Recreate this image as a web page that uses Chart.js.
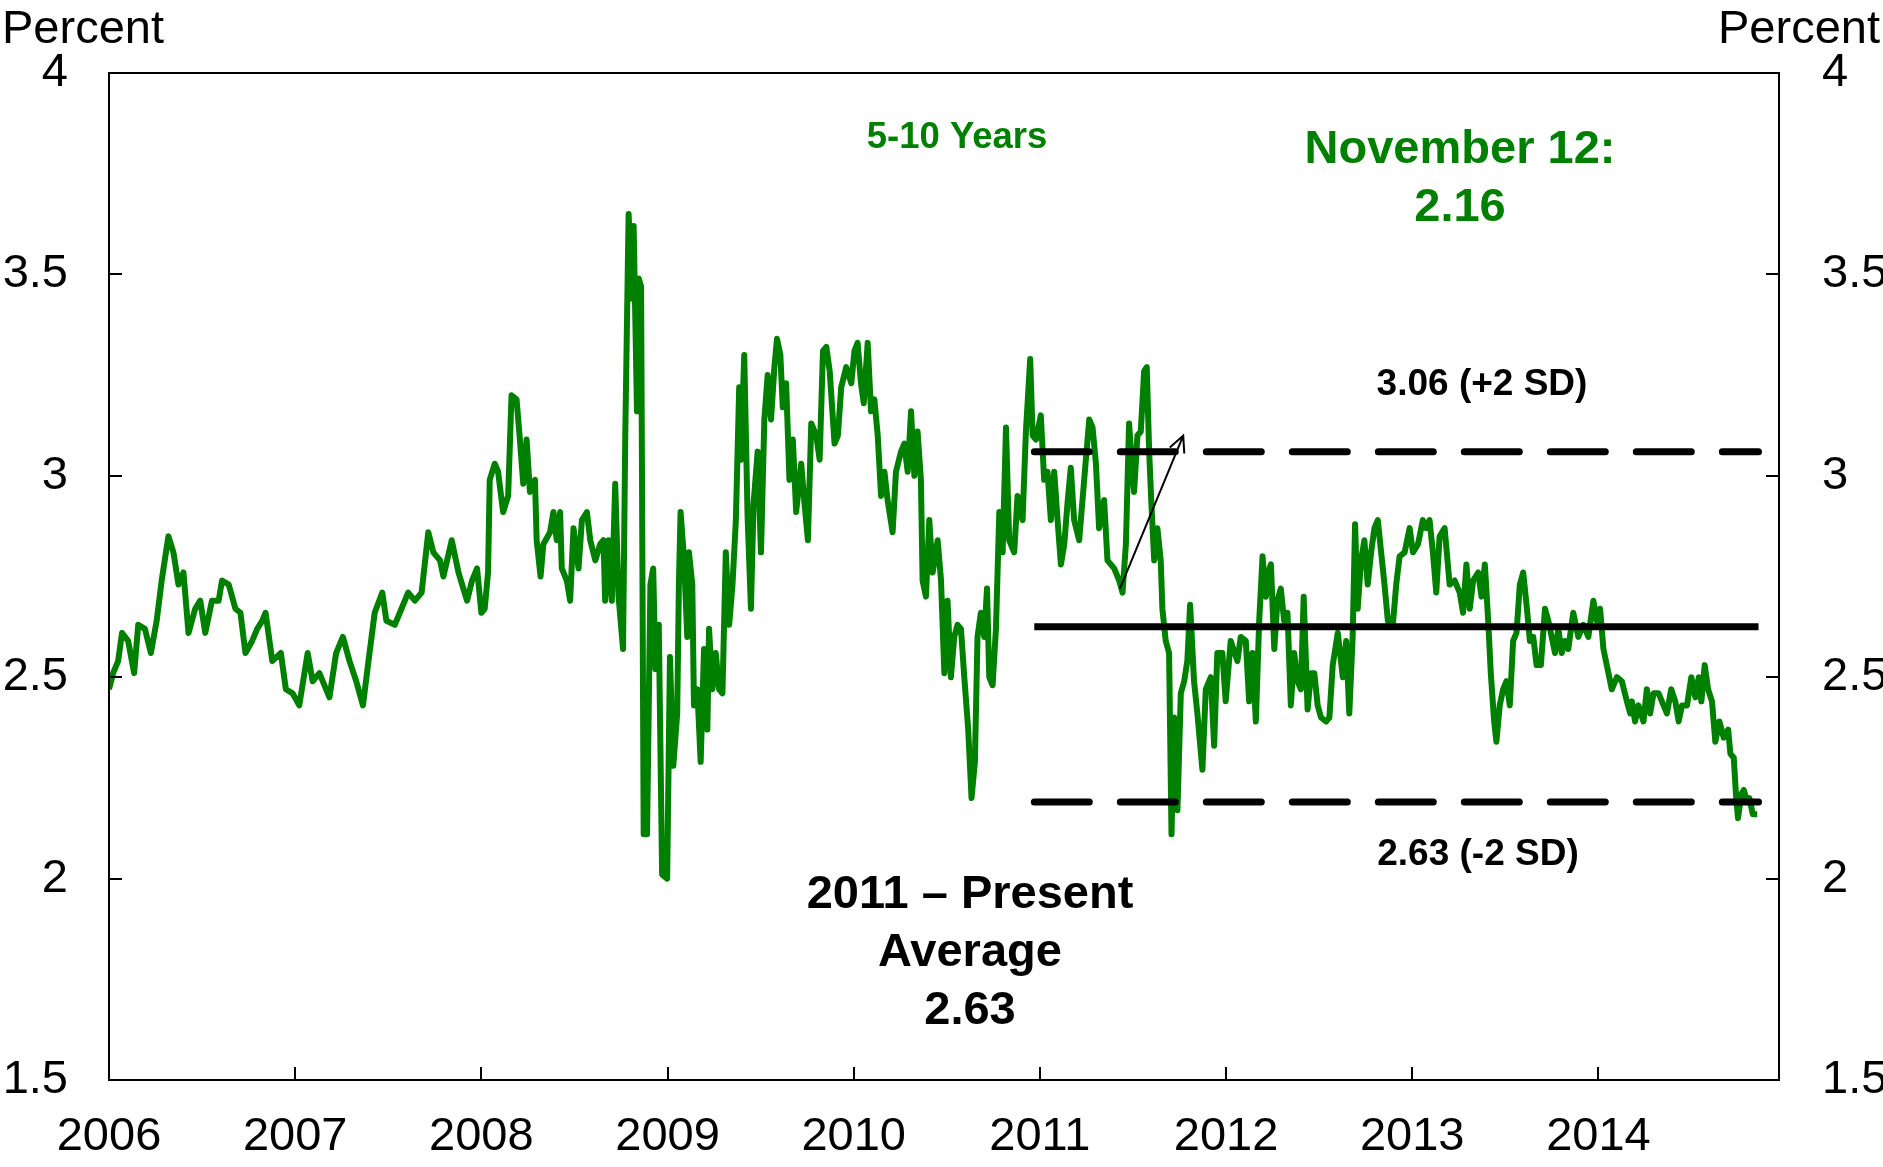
<!DOCTYPE html>
<html>
<head>
<meta charset="utf-8">
<title>5-10 Years</title>
<script src="https://cdn.jsdelivr.net/npm/chart.js@4.4.1/dist/chart.umd.min.js"></script>
<style>
  html, body { margin: 0; padding: 0; background: #fff; }
  canvas { display: block; }
</style>
</head>
<body>
<canvas id="chart" width="1883" height="1167"></canvas>
<script>
const dates = [
  2006.000, 2006.022, 2006.049, 2006.070, 2006.103, 2006.135, 2006.157, 2006.193, 2006.225, 2006.256,
  2006.283, 2006.319, 2006.346, 2006.373, 2006.400, 2006.427, 2006.463, 2006.490, 2006.517, 2006.553,
  2006.589, 2006.607, 2006.643, 2006.679, 2006.706, 2006.733, 2006.769, 2006.796, 2006.823, 2006.841,
  2006.877, 2006.923, 2006.950, 2006.986, 2007.022, 2007.067, 2007.094, 2007.130, 2007.184, 2007.220,
  2007.256, 2007.292, 2007.328, 2007.364, 2007.391, 2007.427, 2007.468, 2007.490, 2007.535, 2007.571,
  2007.607, 2007.643, 2007.679, 2007.715, 2007.742, 2007.778, 2007.796, 2007.841, 2007.877, 2007.923,
  2007.950, 2007.977,
  2008.000, 2008.018, 2008.036, 2008.045, 2008.072, 2008.090, 2008.117, 2008.144, 2008.162, 2008.189,
  2008.207, 2008.225, 2008.243, 2008.261, 2008.288, 2008.297, 2008.318, 2008.333, 2008.369, 2008.387,
  2008.405, 2008.423, 2008.432, 2008.459, 2008.477, 2008.495, 2008.522, 2008.540, 2008.567, 2008.585,
  2008.612, 2008.638, 2008.656, 2008.665, 2008.683, 2008.701, 2008.719, 2008.737, 2008.761, 2008.773,
  2008.791, 2008.809, 2008.818, 2008.836, 2008.845, 2008.858, 2008.872, 2008.890, 2008.908, 2008.923,
  2008.935, 2008.953, 2008.971, 2008.998, 2009.013, 2009.031, 2009.052, 2009.061, 2009.070, 2009.088,
  2009.106, 2009.115, 2009.133, 2009.142, 2009.160, 2009.178, 2009.196, 2009.214, 2009.223, 2009.241,
  2009.259, 2009.277, 2009.295, 2009.313, 2009.331, 2009.349, 2009.367, 2009.385, 2009.394, 2009.412,
  2009.430, 2009.448, 2009.462, 2009.484, 2009.502, 2009.520, 2009.538, 2009.556, 2009.574, 2009.588,
  2009.606, 2009.619, 2009.637, 2009.655, 2009.673, 2009.691, 2009.718, 2009.736, 2009.754, 2009.772,
  2009.799, 2009.817, 2009.835, 2009.853, 2009.871, 2009.897, 2009.915, 2009.933, 2009.960, 2009.987,
  2010.004, 2010.021, 2010.039, 2010.054, 2010.075, 2010.093, 2010.111, 2010.129, 2010.147, 2010.165,
  2010.182, 2010.209, 2010.227, 2010.254, 2010.272, 2010.290, 2010.308, 2010.326, 2010.343, 2010.361,
  2010.370, 2010.388, 2010.406, 2010.424, 2010.451, 2010.469, 2010.487, 2010.504, 2010.522, 2010.540,
  2010.558, 2010.576, 2010.594, 2010.615, 2010.633, 2010.651, 2010.665, 2010.683, 2010.701, 2010.716,
  2010.728, 2010.746, 2010.764, 2010.782, 2010.800, 2010.818, 2010.835, 2010.862, 2010.880, 2010.907,
  2010.925, 2010.948, 2010.961, 2010.979, 2011.005, 2011.023, 2011.041, 2011.059, 2011.077, 2011.095,
  2011.113, 2011.131, 2011.148, 2011.166, 2011.184, 2011.211, 2011.238, 2011.265, 2011.283, 2011.301,
  2011.318, 2011.345, 2011.363, 2011.399, 2011.426, 2011.444, 2011.462, 2011.479, 2011.497, 2011.506,
  2011.524, 2011.542, 2011.560, 2011.574, 2011.587, 2011.599, 2011.614, 2011.631, 2011.649, 2011.658,
  2011.676, 2011.694, 2011.707, 2011.721, 2011.739, 2011.757, 2011.775, 2011.792, 2011.807, 2011.828,
  2011.846, 2011.873, 2011.891, 2011.918, 2011.936, 2011.953, 2011.980, 2011.998, 2012.025,
  2012.061, 2012.079, 2012.106, 2012.124, 2012.142, 2012.160, 2012.178, 2012.196, 2012.214, 2012.226,
  2012.241, 2012.259, 2012.276, 2012.294, 2012.312, 2012.330, 2012.348, 2012.366, 2012.384, 2012.402,
  2012.417, 2012.438, 2012.456, 2012.474, 2012.492, 2012.510, 2012.537, 2012.555, 2012.573, 2012.600,
  2012.627, 2012.645, 2012.662, 2012.680, 2012.693, 2012.707, 2012.725, 2012.743, 2012.761, 2012.779,
  2012.797, 2012.815, 2012.833, 2012.851, 2012.869, 2012.896, 2012.914, 2012.932, 2012.959, 2012.986,
  2013.004, 2013.031, 2013.057, 2013.075, 2013.093, 2013.111, 2013.129, 2013.147, 2013.174, 2013.201,
  2013.228, 2013.255, 2013.273, 2013.291, 2013.309, 2013.327, 2013.354, 2013.372, 2013.390, 2013.408,
  2013.422, 2013.440, 2013.452, 2013.470, 2013.488, 2013.506, 2013.524, 2013.542, 2013.560, 2013.578,
  2013.596, 2013.614, 2013.632, 2013.650, 2013.668, 2013.691, 2013.713, 2013.731, 2013.749, 2013.767,
  2013.785, 2013.803, 2013.820, 2013.838, 2013.865, 2013.892, 2013.919, 2013.946, 2013.973, 2013.991,
  2014.009, 2014.027, 2014.045, 2014.072, 2014.099, 2014.126, 2014.153, 2014.171,
  2014.180, 2014.197, 2014.215, 2014.242, 2014.260, 2014.278, 2014.296, 2014.323, 2014.350, 2014.368,
  2014.391, 2014.413, 2014.431, 2014.449, 2014.476, 2014.499, 2014.521, 2014.539, 2014.553, 2014.571,
  2014.589, 2014.610, 2014.628, 2014.650, 2014.673, 2014.697, 2014.709, 2014.727, 2014.740, 2014.750,
  2014.768, 2014.781, 2014.799, 2014.811, 2014.829, 2014.853
];

// 5-10 year forward breakeven, percent
const breakeven = [
  2.47, 2.51, 2.54, 2.61, 2.59, 2.51, 2.63, 2.62, 2.56, 2.64,
  2.74, 2.85, 2.81, 2.73, 2.76, 2.61, 2.67, 2.69, 2.61, 2.69,
  2.69, 2.74, 2.73, 2.67, 2.66, 2.56, 2.59, 2.62, 2.64, 2.66,
  2.54, 2.56, 2.47, 2.46, 2.43, 2.56, 2.49, 2.51, 2.45, 2.56,
  2.60, 2.54, 2.49, 2.43, 2.53, 2.66, 2.71, 2.64, 2.63, 2.67,
  2.71, 2.69, 2.71, 2.86, 2.81, 2.79, 2.75, 2.84, 2.76, 2.69,
  2.74, 2.77,
  2.66, 2.67, 2.76, 2.99, 3.03, 3.01, 2.91, 2.95, 3.20, 3.19,
  3.09, 2.98, 3.09, 2.96, 2.99, 2.84, 2.75, 2.83, 2.86, 2.91,
  2.84, 2.91, 2.77, 2.74, 2.69, 2.87, 2.77, 2.89, 2.91, 2.84,
  2.79, 2.83, 2.84, 2.69, 2.84, 2.69, 2.98, 2.70, 2.57, 3.10,
  3.65, 3.44, 3.62, 3.16, 3.49, 3.47, 2.11, 2.11, 2.73, 2.77,
  2.52, 2.63, 2.01, 2.00, 2.55, 2.28, 2.41, 2.73, 2.91, 2.80,
  2.60, 2.81, 2.73, 2.43, 2.47, 2.29, 2.57, 2.37, 2.62, 2.47,
  2.56, 2.47, 2.46, 2.81, 2.63, 2.73, 2.89, 3.22, 3.04, 3.30,
  2.90, 2.67, 2.93, 3.06, 2.81, 3.14, 3.25, 3.14, 3.27, 3.34,
  3.30, 3.17, 3.23, 2.99, 3.09, 2.91, 3.03, 2.93, 2.84, 3.13,
  3.10, 3.04, 3.31, 3.32, 3.26, 3.08, 3.10, 3.22, 3.27, 3.23,
  3.31, 3.33, 3.23, 3.18, 3.33, 3.16, 3.19, 3.10, 2.95, 3.01,
  2.94, 2.86, 3.01, 3.06, 3.08, 3.01, 3.16, 3.00, 3.11, 2.99,
  2.74, 2.70, 2.89, 2.76, 2.84, 2.74, 2.51, 2.69, 2.50, 2.60,
  2.63, 2.62, 2.50, 2.37, 2.20, 2.29, 2.60, 2.66, 2.60, 2.72,
  2.50, 2.48, 2.62, 2.91, 2.81, 3.12, 2.84, 2.81, 2.95, 2.89,
  3.11, 3.29, 3.10, 3.09, 3.15, 2.99, 3.01, 2.89, 3.01, 2.89,
  2.78, 2.83, 2.93, 3.02, 2.89, 2.84, 2.99, 3.14, 3.12, 3.03,
  2.87, 2.94, 2.79, 2.77, 2.74, 2.71, 2.83, 3.13, 3.01, 2.96,
  3.10, 3.11, 3.26, 3.27, 3.06, 2.93, 2.79, 2.87, 2.79, 2.67,
  2.59, 2.56, 2.11, 2.40, 2.17, 2.46, 2.49, 2.54, 2.68, 2.49,
  2.41, 2.27, 2.47, 2.50, 2.33, 2.56, 2.56, 2.44, 2.59,
  2.54, 2.60, 2.59, 2.44, 2.56, 2.39, 2.64, 2.80, 2.70, 2.76,
  2.78, 2.57, 2.69, 2.72, 2.64, 2.66, 2.43, 2.56, 2.49, 2.47,
  2.70, 2.42, 2.51, 2.51, 2.43, 2.40, 2.39, 2.40, 2.53, 2.61,
  2.50, 2.59, 2.41, 2.60, 2.88, 2.67, 2.79, 2.84, 2.73, 2.81,
  2.87, 2.89, 2.81, 2.73, 2.64, 2.63, 2.73, 2.80, 2.81, 2.87,
  2.81, 2.83, 2.89, 2.87, 2.89, 2.81, 2.71, 2.85, 2.87, 2.73,
  2.74, 2.71, 2.66, 2.78, 2.67, 2.74, 2.76, 2.70, 2.78, 2.64,
  2.51, 2.39, 2.34, 2.43, 2.47, 2.49, 2.43, 2.59, 2.61, 2.73,
  2.76, 2.68, 2.59, 2.60, 2.53, 2.53, 2.67, 2.64, 2.60, 2.56,
  2.62, 2.56, 2.59, 2.57, 2.66, 2.60, 2.63, 2.60, 2.69, 2.64,
  2.67, 2.57, 2.53, 2.47, 2.50, 2.49, 2.44, 2.41,
  2.44, 2.39, 2.43, 2.39, 2.47, 2.41, 2.46, 2.46, 2.43, 2.41,
  2.47, 2.44, 2.39, 2.43, 2.43, 2.50, 2.45, 2.50, 2.44, 2.53,
  2.47, 2.44, 2.34, 2.39, 2.35, 2.37, 2.31, 2.30, 2.20, 2.15,
  2.21, 2.22, 2.19, 2.20, 2.16, 2.16
];

// 2011-present average and +/- 2 SD band
const bandStart = 2010.97;
const bandEnd = 2014.86;
const average = 2.625;
const upperBand = 3.06;
const lowerBand = 2.19;

const yearTicks = [2006, 2007, 2008, 2009, 2010, 2011, 2012, 2013, 2014];
const percentTicks = [1.5, 2, 2.5, 3, 3.5, 4];

// arrow from the mid-2011 dip up towards the +2 SD line
const arrowFrom = [2011.43, 2.72];
const arrowTo = [2011.77, 3.10];

if (dates.length !== breakeven.length) console.warn('length mismatch', dates.length, breakeven.length);

const GREEN = '#008000';
const FONT = '"Liberation Sans", Arial, Helvetica, sans-serif';
Chart.defaults.font.family = FONT;
Chart.defaults.color = '#000';

const series = dates.map((d, i) => ({ x: d, y: breakeven[i] }));
const band = level => [{ x: bandStart, y: level }, { x: bandEnd, y: level }];

const setTicks = list => scale => { scale.ticks = list.map(v => ({ value: v })); };

// frame, inward tick marks, arrow and the text on the chart
const decorations = {
  id: 'decorations',
  afterDraw(chart) {
    const { ctx, chartArea: a, scales: { x, y } } = chart;
    ctx.save();
    ctx.strokeStyle = '#000';
    ctx.lineWidth = 2;
    ctx.strokeRect(a.left, a.top, a.right - a.left, a.bottom - a.top);

    const len = 13;
    ctx.beginPath();
    yearTicks.forEach(v => {
      const px = Math.round(x.getPixelForValue(v));
      ctx.moveTo(px, a.bottom);
      ctx.lineTo(px, a.bottom - len);
    });
    percentTicks.forEach(v => {
      const py = Math.round(y.getPixelForValue(v));
      ctx.moveTo(a.left, py);
      ctx.lineTo(a.left + len, py);
      ctx.moveTo(a.right, py);
      ctx.lineTo(a.right - len, py);
    });
    ctx.stroke();

    // arrow
    const x0 = x.getPixelForValue(arrowFrom[0]), y0 = y.getPixelForValue(arrowFrom[1]);
    const x1 = x.getPixelForValue(arrowTo[0]), y1 = y.getPixelForValue(arrowTo[1]);
    const ang = Math.atan2(y1 - y0, x1 - x0);
    const head = 18;
    ctx.lineWidth = 2;
    ctx.beginPath();
    ctx.moveTo(x0, y0);
    ctx.lineTo(x1, y1);
    ctx.moveTo(x1 - head * Math.cos(ang - 0.45), y1 - head * Math.sin(ang - 0.45));
    ctx.lineTo(x1, y1);
    ctx.lineTo(x1 - head * Math.cos(ang + 0.45), y1 - head * Math.sin(ang + 0.45));
    ctx.stroke();

    // axis titles
    ctx.fillStyle = '#000';
    ctx.font = '47px ' + FONT;
    ctx.textBaseline = 'alphabetic';
    ctx.textAlign = 'left';
    ctx.fillText('Percent', 2, 43);
    ctx.fillText('Percent', 1718, 43);

    // annotations
    ctx.textAlign = 'center';
    ctx.textBaseline = 'middle';
    ctx.fillStyle = GREEN;
    ctx.font = 'bold 36.5px ' + FONT;
    ctx.fillText('5-10 Years', 957, 138);
    ctx.font = 'bold 47px ' + FONT;
    ctx.fillText('November 12:', 1460, 150);
    ctx.fillText('2.16', 1460, 208);

    ctx.fillStyle = '#000';
    ctx.font = 'bold 37px ' + FONT;
    ctx.fillText('3.06 (+2 SD)', 1482, 385);
    ctx.fillText('2.63 (-2 SD)', 1478, 855);
    ctx.font = 'bold 47px ' + FONT;
    ctx.fillText('2011 \u2013 Present', 970, 895);
    ctx.fillText('Average', 970, 953);
    ctx.fillText('2.63', 970, 1011);
    ctx.restore();
  }
};

const dashed = { borderColor: '#000', borderWidth: 7, borderDash: [55, 31], borderCapStyle: 'round', order: 0 };

new Chart(document.getElementById('chart'), {
  type: 'line',
  data: {
    datasets: [
      { ...dashed, data: band(upperBand) },
      { data: band(average), borderColor: '#000', borderWidth: 7, order: 0 },
      { ...dashed, data: band(lowerBand) },
      { data: series, borderColor: GREEN, borderWidth: 6, borderJoinStyle: 'round', order: 1 }
    ]
  },
  options: {
    responsive: false,
    animation: false,
    devicePixelRatio: 1,
    elements: { point: { radius: 0 }, line: { tension: 0 } },
    layout: { padding: { top: 73 } },
    plugins: { legend: { display: false }, tooltip: { enabled: false } },
    scales: {
      x: {
        type: 'linear', min: 2006, max: 2014.97,
        grid: { display: false, drawTicks: false },
        border: { display: false },
        afterBuildTicks: setTicks(yearTicks),
        afterFit: s => { s.height = 87; },
        ticks: { font: { size: 47 }, padding: 29, maxRotation: 0, autoSkip: false, callback: v => String(v) }
      },
      y: {
        position: 'left', min: 1.5, max: 4,
        grid: { display: false, drawTicks: false },
        border: { display: false },
        afterBuildTicks: setTicks(percentTicks),
        afterFit: s => { s.width = 109; },
        ticks: { font: { size: 47 }, padding: 41, callback: v => String(v) }
      },
      y2: {
        position: 'right', min: 1.5, max: 4,
        grid: { display: false, drawTicks: false },
        border: { display: false },
        afterBuildTicks: setTicks(percentTicks),
        afterFit: s => { s.width = 104; },
        ticks: { font: { size: 47 }, padding: 43, callback: v => String(v) }
      }
    }
  },
  plugins: [decorations]
});
</script>
</body>
</html>
